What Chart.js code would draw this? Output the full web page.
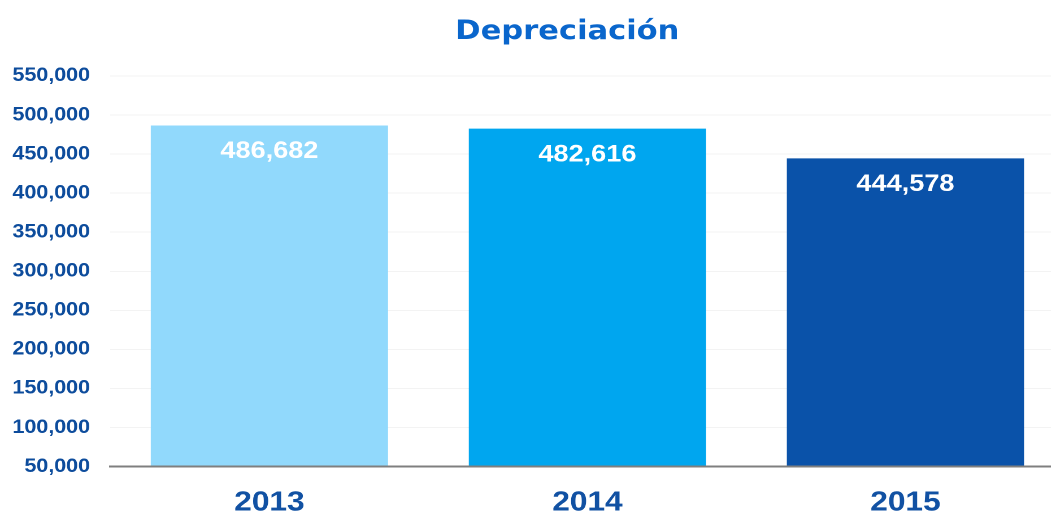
<!DOCTYPE html>
<html>
<head>
<meta charset="utf-8">
<script src="https://cdn.jsdelivr.net/npm/chart.js@4/dist/chart.umd.min.js"></script>
<style>
  html,body{margin:0;padding:0;background:#fff;overflow:hidden;}
  #outer{width:1051px;height:516px;position:relative;overflow:hidden;}
  #inner{width:945px;height:516px;position:absolute;left:0;top:0;transform:scaleX(1.13);transform-origin:0 0;}
</style>
</head>
<body>
<div id="outer"><div id="inner"><canvas id="c"></canvas></div></div>
<script>
const categories = ['2013', '2014', '2015'];
const values = [486682, 482616, 444578];
const barColors = ['#91d9fc', '#00a6ef', '#0a52a9'];
const yTicks = [50000, 100000, 150000, 200000, 250000, 300000, 350000, 400000, 450000, 500000, 550000];
const chartTitle = 'Depreciación';

const fmt = v => v.toLocaleString('en-US');

const valueLabels = {
  id: 'valueLabels',
  afterDatasetsDraw(chart) {
    const ctx = chart.ctx;
    const meta = chart.getDatasetMeta(0);
    ctx.save();
    ctx.fillStyle = '#ffffff';
    ctx.font = 'bold 24px "Liberation Sans", Arial, sans-serif';
    ctx.textAlign = 'center';
    ctx.textBaseline = 'middle';
    meta.data.forEach((bar, i) => {
      ctx.fillText(fmt(values[i]), bar.x, bar.y + 26);
    });
    ctx.restore();
  }
};

const titleText = {
  id: 'titleText',
  afterDraw(chart) {
    const ctx = chart.ctx;
    ctx.save();
    ctx.fillStyle = '#0a66cc';
    ctx.font = 'bold 27px "DejaVu Sans", Verdana, sans-serif';
    ctx.textAlign = 'center';
    ctx.textBaseline = 'alphabetic';
    ctx.fillText(chartTitle, 502, 39);
    ctx.restore();
  }
};

new Chart(document.getElementById('c'), {
  type: 'bar',
  data: {
    labels: categories,
    datasets: [{
      data: values,
      backgroundColor: barColors,
      borderWidth: 0,
      categoryPercentage: 0.746,
      barPercentage: 1.0
    }]
  },
  options: {
    responsive: true,
    maintainAspectRatio: false,
    animation: false,
    devicePixelRatio: 2,
    layout: { padding: { left: -7, right: 3, top: 76, bottom: -23 } },
    plugins: {
      legend: { display: false },
      tooltip: { enabled: false },
      title: { display: false }
    },
    scales: {
      x: {
        grid: { display: false, drawTicks: false },
        border: { display: true, color: '#7f7f7f', width: 2, z: 1 },
        ticks: {
          color: '#1151a3',
          font: { family: '"Liberation Sans", Arial, sans-serif', size: 28, weight: 'bold', lineHeight: 0.8 },
          padding: 25
        }
      },
      y: {
        min: 50000,
        max: 550000,
        afterBuildTicks(axis) { axis.ticks = yTicks.map(v => ({ value: v })); },
        grid: { color: '#f3f3f3', lineWidth: 1, drawTicks: false },
        border: { display: false },
        ticks: {
          color: '#0d4c9c',
          font: { family: '"Liberation Sans", Arial, sans-serif', size: 19, weight: 'bold' },
          padding: 18,
          callback: v => fmt(v)
        }
      }
    }
  },
  plugins: [valueLabels, titleText]
});
</script>
</body>
</html>
